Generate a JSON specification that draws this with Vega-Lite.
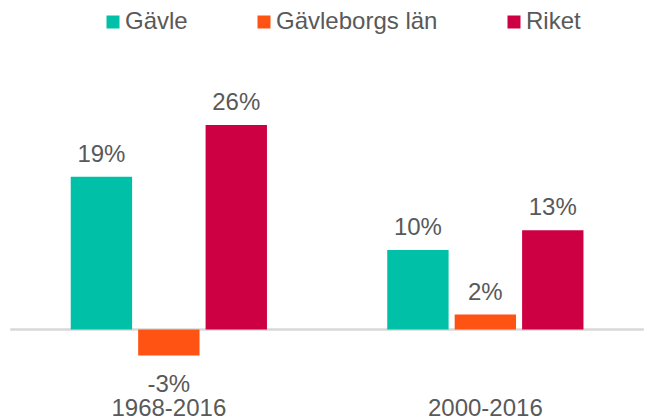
{
  "$schema": "https://vega.github.io/schema/vega-lite/v6.json",
  "width": 633,
  "height": 299,
  "autosize": {"type": "none"},
  "padding": {"left": 10.6, "top": 77.7, "right": 1.4, "bottom": 41.3},
  "data": {
    "values": [
      {"period": "1968-2016", "series": "Gävle", "value": 0.194},
      {"period": "1968-2016", "series": "Gävleborgs län", "value": -0.033},
      {"period": "1968-2016", "series": "Riket", "value": 0.26},
      {"period": "2000-2016", "series": "Gävle", "value": 0.101},
      {"period": "2000-2016", "series": "Gävleborgs län", "value": 0.019},
      {"period": "2000-2016", "series": "Riket", "value": 0.126}
    ]
  },
  "layer": [
    {
      "mark": {"type": "rule", "color": "#d9d9d9", "strokeWidth": 1.5},
      "encoding": {"y": {"datum": 0, "scale": {"domain": [-0.06, 0.32], "nice": false}, "axis": null}}
    },
    {
      "mark": {"type": "bar"},
      "encoding": {
        "x": {"field": "period", "type": "nominal", "title": null,
              "scale": {"paddingInner": 0.38, "paddingOuter": 0.19},
              "axis": {"labelAngle": 0, "ticks": false, "tickSize": 0, "domain": false, "labelPadding": 38.3, "labelBaseline": "alphabetic", "labelFontSize": 24, "labelFont": "Liberation Sans", "labelColor": "#595959", "grid": false}},
        "xOffset": {"field": "series", "type": "nominal", "sort": ["Gävle", "Gävleborgs län", "Riket"], "scale": {"paddingInner": 0.09, "paddingOuter": 0}},
        "y": {"field": "value", "type": "quantitative", "scale": {"domain": [-0.06, 0.32], "nice": false}, "axis": null},
        "color": {"field": "series", "type": "nominal", "sort": ["Gävle", "Gävleborgs län", "Riket"],
                  "scale": {"domain": ["Gävle", "Gävleborgs län", "Riket"], "range": ["#00C1A7", "#FF5314", "#CC0042"]},
                  "legend": {"title": null, "orient": "none", "direction": "horizontal", "legendX": 90.4, "legendY": -67.7,
                             "symbolType": "square", "symbolSize": 169, "symbolStrokeWidth": 0, "symbolOpacity": 1,
                             "labelFontSize": 24, "labelFont": "Liberation Sans", "labelColor": "#595959", "labelLimit": 400,
                             "labelOffset": 0, "columnPadding": 64, "padding": 0}}
      }
    },
    {
      "transform": [{"filter": "datum.value >= 0"}],
      "mark": {"type": "text", "baseline": "alphabetic", "dy": -15, "fontSize": 24, "font": "Liberation Sans", "color": "#595959"},
      "encoding": {
        "x": {"field": "period", "type": "nominal"},
        "xOffset": {"field": "series", "type": "nominal", "sort": ["Gävle", "Gävleborgs län", "Riket"]},
        "y": {"field": "value", "type": "quantitative"},
        "text": {"field": "value", "type": "quantitative", "format": ".0%"}
      }
    },
    {
      "transform": [{"filter": "datum.value < 0"}],
      "mark": {"type": "text", "baseline": "alphabetic", "dy": 37, "fontSize": 24, "font": "Liberation Sans", "color": "#595959"},
      "encoding": {
        "x": {"field": "period", "type": "nominal"},
        "xOffset": {"field": "series", "type": "nominal", "sort": ["Gävle", "Gävleborgs län", "Riket"]},
        "y": {"field": "value", "type": "quantitative"},
        "text": {"field": "value", "type": "quantitative", "format": ".0%"}
      }
    }
  ],
  "config": {
    "view": {"stroke": null},
    "locale": {"number": {"decimal": ".", "thousands": ",", "grouping": [3], "currency": ["$", ""], "minus": "-"}}
  }
}
